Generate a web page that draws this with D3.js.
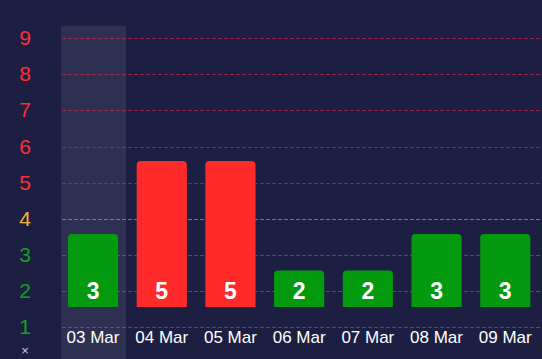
<!DOCTYPE html>
<html>
<head>
<meta charset="utf-8">
<script src="https://cdn.jsdelivr.net/npm/d3@7"></script>
<style>
  html, body { margin: 0; padding: 0; background: #1c1f42; }
  svg { display: block; font-family: "Liberation Sans", Arial, sans-serif; }
</style>
</head>
<body>
<div id="chart"></div>
<script>
(function() {
  const days = ["03 Mar", "04 Mar", "05 Mar", "06 Mar", "07 Mar", "08 Mar", "09 Mar"];
  const counts = [3, 5, 5, 2, 2, 3, 3];
  const levels = [1, 2, 3, 4, 5, 6, 7, 8, 9];
  const highlighted = "03 Mar";

  const W = 542, H = 359;

  // level colour: low = green, 4 = amber, high = red
  function levelColor(v) {
    if (v >= 5) return "#ff2e36";
    if (v === 4) return "#f0b43c";
    return "#14a01e";
  }
  function gridColor(v) {
    if (v >= 5) return "rgba(230,40,70,0.6)";
    if (v === 4) return "rgba(220,170,80,0.6)";
    return "rgba(130,130,190,0.45)";
  }
  function barColor(v) {
    return v >= 4 ? "#ff2b2b" : "#039a0f";
  }

  const svg = d3.select("#chart").append("svg")
    .attr("width", W)
    .attr("height", H);

  svg.append("rect")
    .attr("width", W).attr("height", H)
    .attr("fill", "#1c1f42");

  const x = d3.scaleBand()
    .domain(days)
    .range([58.7, 539.6])
    .paddingInner(0.27)
    .paddingOuter(0.135);

  // axis labels / grid scale
  const yGrid = d3.scaleLinear().domain([1, 9]).range([327, 38.3]);
  // bar scale (bars rise from the "1" level)
  const yBar = d3.scaleLinear().domain([1, 9]).range([307, 15]);

  // highlighted column
  svg.append("rect")
    .attr("x", x(highlighted) + x.bandwidth() / 2 - 32)
    .attr("y", 26)
    .attr("width", 65)
    .attr("height", H - 26)
    .attr("fill", "#2e3052");

  // grid lines
  svg.selectAll(".grid")
    .data(levels)
    .enter()
    .append("line")
    .attr("class", "grid")
    .attr("x1", 62)
    .attr("x2", W)
    .attr("y1", d => Math.round(yGrid(d)) + 0.5)
    .attr("y2", d => Math.round(yGrid(d)) + 0.5)
    .attr("stroke", d => gridColor(d))
    .attr("stroke-width", 1)
    .attr("stroke-dasharray", "4,2");

  // y labels
  svg.selectAll(".ylab")
    .data(levels)
    .enter()
    .append("text")
    .attr("class", "ylab")
    .attr("x", 25)
    .attr("y", d => yGrid(d) + 7)
    .attr("text-anchor", "middle")
    .style("font-size", "21px")
    .style("fill", d => levelColor(d))
    .text(d => d);

  const data = days.map((d, i) => ({ day: d, value: counts[i] }));

  // bars with rounded top corners
  function barPath(d) {
    const x0 = x(d.day), w = x.bandwidth();
    const y0 = yBar(d.value), y1 = yBar(1), r = 4;
    return `M${x0},${y1} L${x0},${y0 + r} Q${x0},${y0} ${x0 + r},${y0}` +
      ` L${x0 + w - r},${y0} Q${x0 + w},${y0} ${x0 + w},${y0 + r} L${x0 + w},${y1} Z`;
  }

  svg.selectAll(".bar")
    .data(data)
    .enter()
    .append("path")
    .attr("class", "bar")
    .attr("d", barPath)
    .attr("fill", d => barColor(d.value));

  svg.selectAll(".val")
    .data(data)
    .enter()
    .append("text")
    .attr("class", "val")
    .attr("x", d => x(d.day) + x.bandwidth() / 2)
    .attr("y", yBar(1) - 8)
    .attr("text-anchor", "middle")
    .style("font-size", "23px")
    .style("font-weight", "bold")
    .style("fill", "#ffffff")
    .text(d => d.value);

  // x labels
  svg.selectAll(".xlab")
    .data(days)
    .enter()
    .append("text")
    .attr("class", "xlab")
    .attr("x", d => x(d) + x.bandwidth() / 2)
    .attr("y", 343)
    .attr("text-anchor", "middle")
    .style("font-size", "17px")
    .style("fill", "#ffffff")
    .text(d => d);

  // small close mark at the bottom edge
  svg.append("text")
    .attr("x", 25)
    .attr("y", 355)
    .attr("text-anchor", "middle")
    .style("font-size", "13px")
    .style("fill", "#c8cbef")
    .text("×");
})();
</script>
</body>
</html>
